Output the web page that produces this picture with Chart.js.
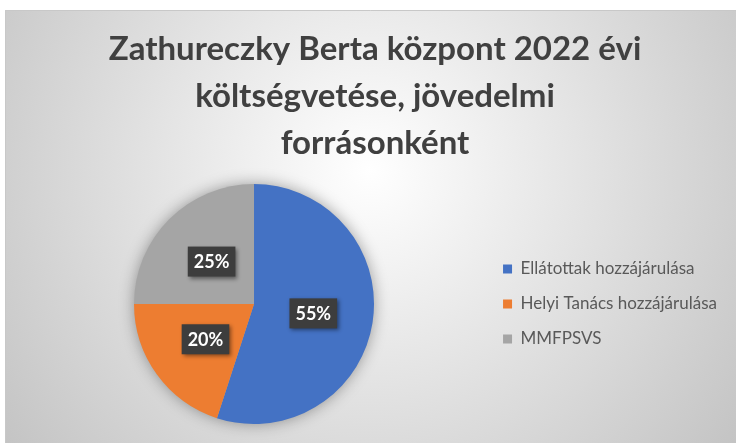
<!DOCTYPE html>
<html>
<head>
<meta charset="utf-8">
<title>Zathureczky Berta központ 2022</title>
<script src="https://cdn.jsdelivr.net/npm/chart.js@4"></script>
<style>
  html, body { margin: 0; padding: 0; background: #fff; }
</style>
</head>
<body>
<canvas id="budgetChart" width="736" height="443"></canvas>
<script>
// income sources and their share of the 2022 budget (%)
const sources = ['Ellátottak hozzájárulása', 'Helyi Tanács hozzájárulása', 'MMFPSVS'];
const shares = [55, 20, 25];
const sliceColors = ['#4472C4', '#ED7D31', '#A5A5A5'];
const titleLines = ['Zathureczky Berta központ 2022 évi', 'költségvetése, jövedelmi', 'forrásonként'];

// gray radial backdrop with a thin frame, like the office chart area
const backdrop = {
    id: 'backdrop',
    beforeDraw(chart) {
        const ctx = chart.ctx;
        const w = chart.width, h = chart.height;
        ctx.save();
        ctx.fillStyle = '#ffffff';
        ctx.fillRect(0, 0, w, h);
        const g = ctx.createRadialGradient(370, 170, 0, 370, 170, 470);
        g.addColorStop(0, '#ffffff');
        g.addColorStop(1, '#c2c2c2');
        ctx.fillStyle = g;
        ctx.fillRect(5, 10, w - 5, h - 10);
        ctx.strokeStyle = '#c8c8c8';
        ctx.lineWidth = 1;
        ctx.beginPath();
        ctx.moveTo(5.5, h);
        ctx.lineTo(5.5, 10.5);
        ctx.lineTo(w, 10.5);
        ctx.stroke();
        ctx.restore();
    }
};

// soft halo under the pie
const pieShadow = {
    id: 'pieShadow',
    beforeDatasetsDraw(chart) {
        const arc = chart.getDatasetMeta(0).data[0];
        if (!arc) return;
        const ctx = chart.ctx;
        ctx.save();
        ctx.shadowColor = 'rgba(0,0,0,0.4)';
        ctx.shadowBlur = 16;
        ctx.fillStyle = '#A5A5A5';
        ctx.beginPath();
        ctx.arc(arc.x, arc.y, arc.outerRadius - 1, 0, Math.PI * 2);
        ctx.fill();
        ctx.restore();
    }
};

// dark percentage callouts in the middle of each slice
const sliceLabels = {
    id: 'sliceLabels',
    afterDatasetsDraw(chart) {
        const ctx = chart.ctx;
        const meta = chart.getDatasetMeta(0);
        const values = chart.data.datasets[0].data;
        const total = values.reduce((a, b) => a + b, 0);
        ctx.save();
        ctx.font = 'bold 18px Lato';
        ctx.textAlign = 'center';
        ctx.textBaseline = 'middle';
        meta.data.forEach((arc, i) => {
            const p = arc.getCenterPoint();
            const text = Math.round(values[i] / total * 100) + '%';
            const bw = ctx.measureText(text).width + 12;
            const bh = 30;
            ctx.shadowColor = 'rgba(0,0,0,0.45)';
            ctx.shadowBlur = 4;
            ctx.shadowOffsetX = 2;
            ctx.shadowOffsetY = 2;
            ctx.fillStyle = '#3d3d3d';
            ctx.fillRect(p.x - bw / 2, p.y - bh / 2, bw, bh);
            ctx.shadowColor = 'transparent';
            ctx.fillStyle = '#ffffff';
            ctx.fillText(text, p.x, p.y + 1);
        });
        ctx.restore();
    }
};

new Chart(document.getElementById('budgetChart'), {
    type: 'pie',
    data: {
        labels: sources,
        datasets: [{
            data: shares,
            backgroundColor: sliceColors,
            borderWidth: 0
        }]
    },
    options: {
        responsive: false,
        animation: false,
        layout: { padding: { top: 8, left: 23, right: 9, bottom: 19 } },
        plugins: {
            title: {
                display: true,
                text: titleLines,
                color: '#404040',
                font: { family: 'Lato', size: 33, weight: 'bold', lineHeight: 47 / 33 },
                padding: { top: 18, bottom: 17 }
            },
            legend: {
                position: 'right',
                fullSize: false,
                labels: {
                    boxWidth: 9,
                    boxHeight: 9,
                    padding: 18,
                    color: '#595959',
                    font: { family: 'Lato', size: 17 }
                }
            },
            tooltip: { enabled: false }
        }
    },
    plugins: [backdrop, pieShadow, sliceLabels]
});
</script>
</body>
</html>
